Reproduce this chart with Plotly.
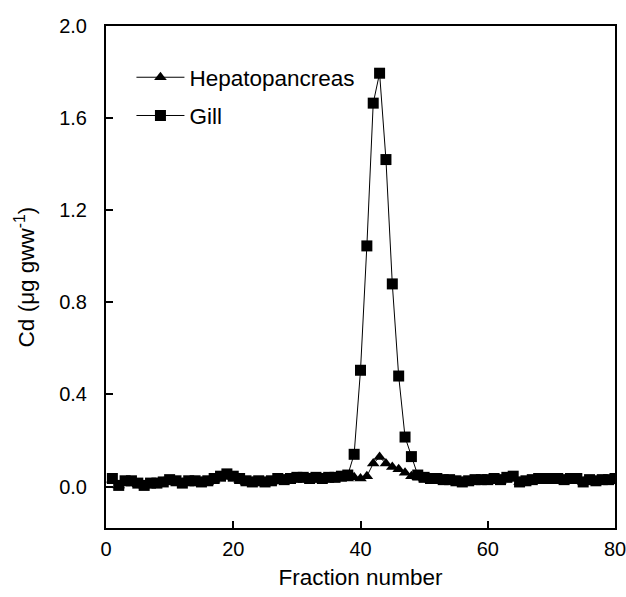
import plotly.graph_objects as go

fraction = list(range(1, 81))

gill = [0.035, 0.005, 0.025, 0.025, 0.015, 0.005, 0.015, 0.015, 0.02, 0.03,
        0.025, 0.015, 0.025, 0.025, 0.02, 0.025, 0.035, 0.045, 0.055, 0.045,
        0.035, 0.025, 0.02, 0.025, 0.02, 0.025, 0.035, 0.03, 0.035, 0.04,
        0.04, 0.035, 0.04, 0.035, 0.04, 0.04, 0.045, 0.05, 0.14, 0.505,
        1.045, 1.665, 1.795, 1.42, 0.88, 0.48, 0.215, 0.13, 0.05, 0.04,
        0.035, 0.035, 0.03, 0.03, 0.025, 0.02, 0.025, 0.03, 0.03, 0.03,
        0.035, 0.03, 0.04, 0.045, 0.02, 0.025, 0.03, 0.035, 0.035, 0.035,
        0.035, 0.03, 0.035, 0.035, 0.02, 0.03, 0.025, 0.03, 0.03, 0.035]

hepatopancreas = [0.03, 0.005, 0.02, 0.02, 0.01, 0.005, 0.01, 0.015, 0.02, 0.025,
                  0.02, 0.015, 0.02, 0.02, 0.02, 0.02, 0.03, 0.04, 0.05, 0.04,
                  0.03, 0.02, 0.02, 0.02, 0.02, 0.02, 0.03, 0.03, 0.03, 0.035,
                  0.035, 0.03, 0.035, 0.03, 0.035, 0.035, 0.04, 0.035, 0.04, 0.035,
                  0.045, 0.1, 0.128, 0.1, 0.085, 0.075, 0.06, 0.045, 0.04, 0.035,
                  0.03, 0.03, 0.03, 0.025, 0.02, 0.02, 0.02, 0.025, 0.025, 0.025,
                  0.03, 0.025, 0.035, 0.04, 0.02, 0.02, 0.025, 0.03, 0.03, 0.03,
                  0.03, 0.025, 0.03, 0.03, 0.02, 0.025, 0.02, 0.025, 0.025, 0.03]

x_ticks = [0, 20, 40, 60, 80]
y_ticks = [0.0, 0.4, 0.8, 1.2, 1.6, 2.0]
y_tick_labels = ["0.0", "0.4", "0.8", "1.2", "1.6", "2.0"]

FONT = "Liberation Sans, Arial, sans-serif"

fig = go.Figure()
fig.add_trace(go.Scatter(
    x=fraction, y=hepatopancreas, name="Hepatopancreas", mode="lines+markers",
    line=dict(color="black", width=1),
    marker=dict(symbol="triangle-up", size=11, color="black"),
    legendgroup="h",
))
fig.add_trace(go.Scatter(
    x=fraction, y=gill, name="Gill", mode="lines+markers",
    line=dict(color="black", width=1),
    marker=dict(symbol="square", size=11, color="black"),
    legendgroup="g",
))

axis_common = dict(
    showline=True, linecolor="black", linewidth=2, mirror=True,
    ticks="inside", ticklen=7, tickwidth=2, tickcolor="black",
    showgrid=False, zeroline=False,
    tickfont=dict(family=FONT, size=20, color="black"),
)

fig.update_layout(
    width=637, height=597,
    margin=dict(l=106, r=11, t=26, b=67),
    paper_bgcolor="white", plot_bgcolor="white",
    font=dict(family=FONT, size=20, color="black"),
    showlegend=True,
    legend=dict(
        x=0.05, y=0.94, xanchor="left", yanchor="top",
        bgcolor="rgba(0,0,0,0)", borderwidth=0,
        font=dict(family=FONT, size=22.5, color="black"),
        tracegroupgap=6, itemwidth=48,
    ),
    xaxis=dict(
        range=[0, 80], tickvals=x_ticks, ticklabelstandoff=2,
        title=dict(text="Fraction number", font=dict(family=FONT, size=22.5), standoff=10),
        **axis_common,
    ),
    yaxis=dict(
        range=[-0.18, 2.0], tickvals=y_ticks, ticktext=y_tick_labels,
        ticklabelstandoff=13,
        title=dict(text="Cd (μg gww<sup>-1</sup>)", font=dict(family=FONT, size=22.5), standoff=18),
        **axis_common,
    ),
)

fig.write_html(
    "out.html",
    config={"displayModeBar": False},
    post_script="document.body.style.margin='0';document.body.style.overflow='hidden';",
)
